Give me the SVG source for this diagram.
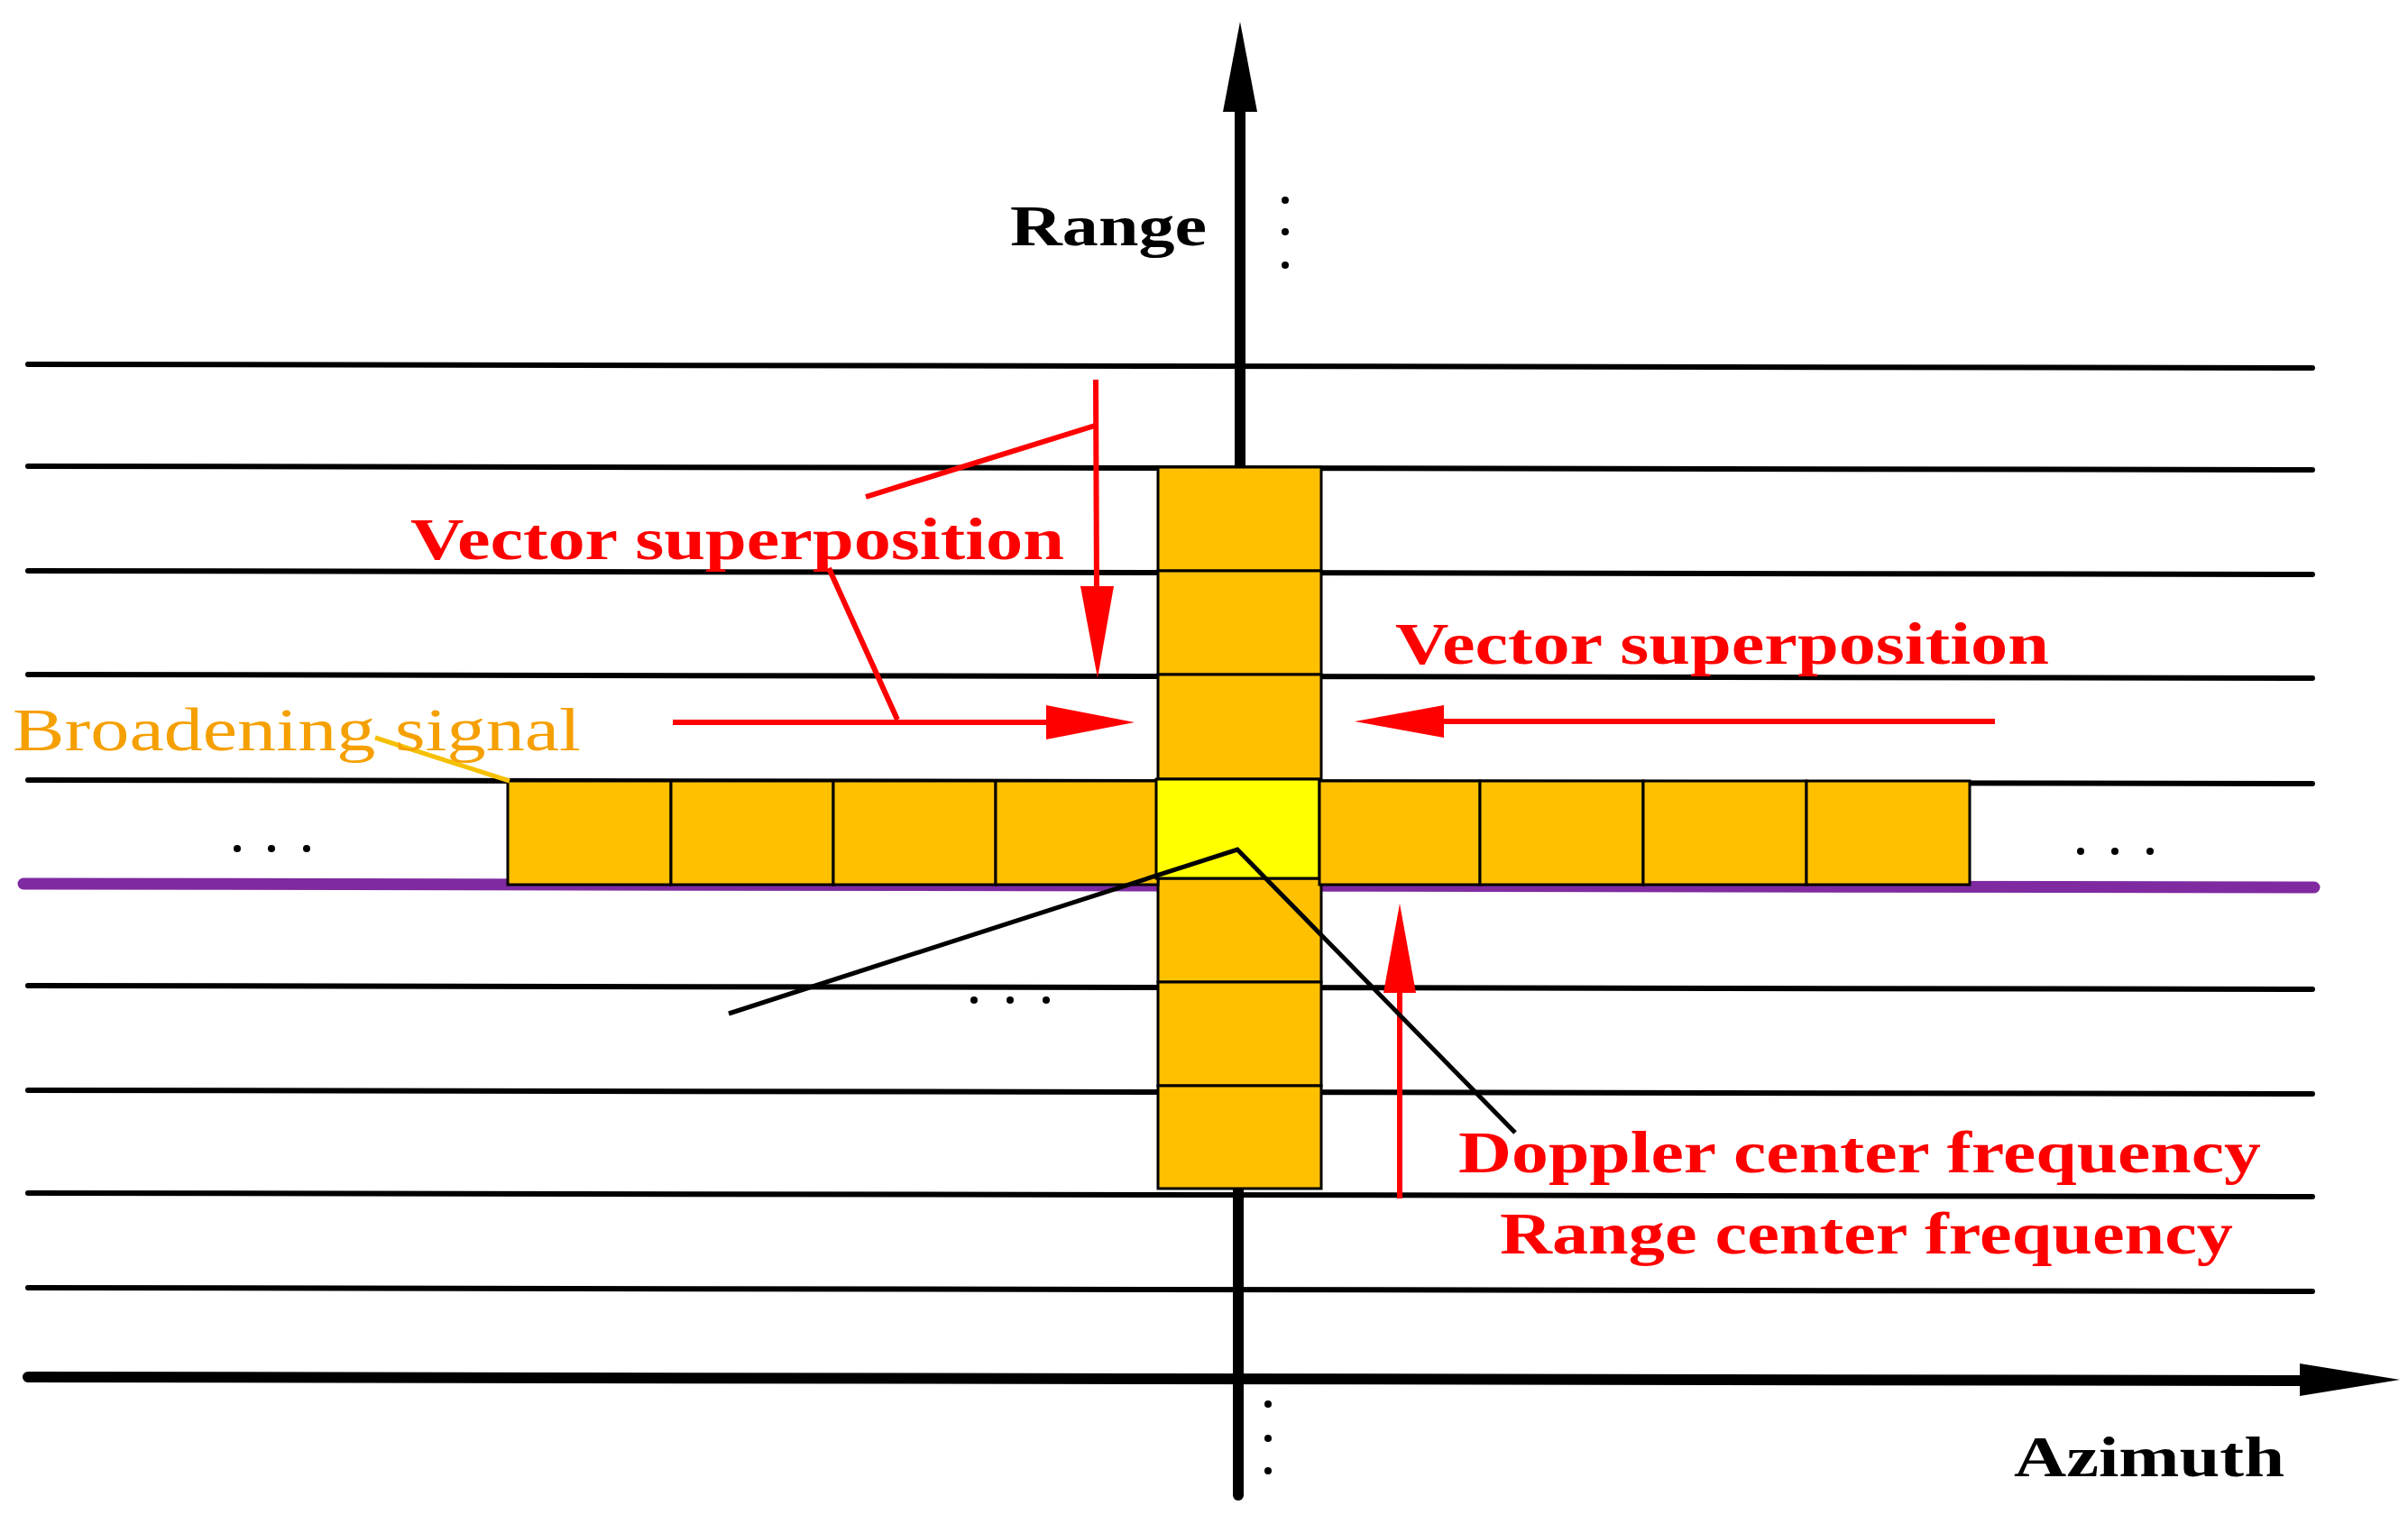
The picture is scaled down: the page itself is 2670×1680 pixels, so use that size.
<svg xmlns="http://www.w3.org/2000/svg" width="2670" height="1680" viewBox="0 0 2670 1680">
<style>
.grid{stroke:#000;stroke-width:6;stroke-linecap:round}
.cell{fill:#ffc000;stroke:#000;stroke-width:3}
.red{stroke:#ff0000;stroke-width:6;fill:none}
.rt{font-family:"Liberation Serif",serif;font-weight:bold;fill:#ff0000;font-size:66px}
.bt{font-family:"Liberation Serif",serif;font-weight:bold;fill:#000;font-size:64px}
.dot{fill:#000}
</style>
<rect width="2670" height="1680" fill="#fff"/>
<g id="grid">
<line class="grid" x1="31" y1="404" x2="2564" y2="408"/>
<line class="grid" x1="31" y1="517" x2="2564" y2="521"/>
<line class="grid" x1="31" y1="633" x2="2564" y2="637"/>
<line class="grid" x1="31" y1="748" x2="2564" y2="752"/>
<line class="grid" x1="31" y1="865" x2="2564" y2="869"/>
<line class="grid" x1="31" y1="1093" x2="2564" y2="1097"/>
<line class="grid" x1="31" y1="1209" x2="2564" y2="1213"/>
<line class="grid" x1="31" y1="1323" x2="2564" y2="1327"/>
<line class="grid" x1="31" y1="1428" x2="2564" y2="1432"/>
<line x1="26" y1="980" x2="2566" y2="984" stroke="#7f2aa0" stroke-width="13" stroke-linecap="round"/>
</g>
<g id="axes">
<line x1="1375" y1="110" x2="1375" y2="518" stroke="#000" stroke-width="12"/>
<polygon points="1375,24 1356,124 1394,124" fill="#000"/>
<line x1="1373" y1="1318" x2="1373" y2="1658" stroke="#000" stroke-width="12" stroke-linecap="round"/>
<line x1="31" y1="1527" x2="2570" y2="1531" stroke="#000" stroke-width="12" stroke-linecap="round"/>
<polygon points="2661,1530 2550,1512 2550,1548" fill="#000"/>
</g>
<g id="column">
<rect class="cell" x="1284" y="518" width="181" height="115"/>
<rect class="cell" x="1284" y="633" width="181" height="115"/>
<rect class="cell" x="1284" y="748" width="181" height="116"/>
<rect class="cell" x="1284" y="974" width="181" height="115"/>
<rect class="cell" x="1284" y="1089" width="181" height="115"/>
<rect class="cell" x="1284" y="1204" width="181" height="114"/>
</g>
<g id="row">
<rect class="cell" x="563" y="866" width="181" height="115"/>
<rect class="cell" x="744" y="866" width="180" height="115"/>
<rect class="cell" x="924" y="866" width="180" height="115"/>
<rect class="cell" x="1104" y="866" width="180" height="115"/>
<rect x="1282" y="864" width="181" height="110" fill="#ffff00" stroke="#000" stroke-width="3"/>
<rect class="cell" x="1463" y="866" width="178" height="115"/>
<rect class="cell" x="1641" y="866" width="181" height="115"/>
<rect class="cell" x="1822" y="866" width="181" height="115"/>
<rect class="cell" x="2003" y="866" width="181" height="115"/>
</g>
<g id="dots">
<circle class="dot" cx="1425" cy="222" r="4"/><circle class="dot" cx="1425" cy="257" r="4"/><circle class="dot" cx="1425" cy="294" r="4"/>
<circle class="dot" cx="1406" cy="1557" r="4"/><circle class="dot" cx="1406" cy="1595" r="4"/><circle class="dot" cx="1406" cy="1631" r="4"/>
<circle class="dot" cx="263" cy="941" r="4"/><circle class="dot" cx="301" cy="941" r="4"/><circle class="dot" cx="340" cy="941" r="4"/>
<circle class="dot" cx="2307" cy="944" r="4"/><circle class="dot" cx="2345" cy="944" r="4"/><circle class="dot" cx="2384" cy="944" r="4"/>
<circle class="dot" cx="1080" cy="1109" r="4"/><circle class="dot" cx="1120" cy="1109" r="4"/><circle class="dot" cx="1160" cy="1109" r="4"/>
</g>
<g id="connectors">
<line class="red" x1="960" y1="551" x2="1214" y2="472"/>
<line class="red" x1="1215" y1="421" x2="1216" y2="660"/>
<polygon points="1198,650 1235,650 1217,752" fill="#ff0000"/>
<line class="red" x1="919" y1="630" x2="995" y2="798"/>
<line class="red" x1="746" y1="801" x2="1170" y2="801"/>
<polygon points="1160,782 1160,820 1258,801" fill="#ff0000"/>
<line class="red" x1="2212" y1="800" x2="1590" y2="800"/>
<polygon points="1601,782 1601,818 1502,800" fill="#ff0000"/>
<line class="red" x1="1552" y1="1329" x2="1552" y2="1090"/>
<polygon points="1534,1101 1570,1101 1552,1002" fill="#ff0000"/>
<polyline points="808,1124 1372,942 1680,1256" fill="none" stroke="#000" stroke-width="5"/>
<line x1="416" y1="818" x2="565" y2="866" stroke="#f5c000" stroke-width="5"/>
</g>
<g id="labels">
<text class="bt" x="1120" y="272" textLength="218" lengthAdjust="spacingAndGlyphs">Range</text>
<text class="bt" x="2233" y="1637" textLength="300" lengthAdjust="spacingAndGlyphs">Azimuth</text>
<text class="rt" x="455" y="620" textLength="725" lengthAdjust="spacingAndGlyphs">Vector superposition</text>
<text class="rt" x="1547" y="736" textLength="725" lengthAdjust="spacingAndGlyphs">Vector superposition</text>
<text class="rt" x="1617" y="1300" textLength="890" lengthAdjust="spacingAndGlyphs">Doppler center frequency</text>
<text class="rt" x="1663" y="1390" textLength="813" lengthAdjust="spacingAndGlyphs">Range center frequency</text>
<text x="14" y="832" font-family="Liberation Serif,serif" font-size="68" fill="#f5a000" textLength="630" lengthAdjust="spacingAndGlyphs">Broadening signal</text>
</g>
</svg>
